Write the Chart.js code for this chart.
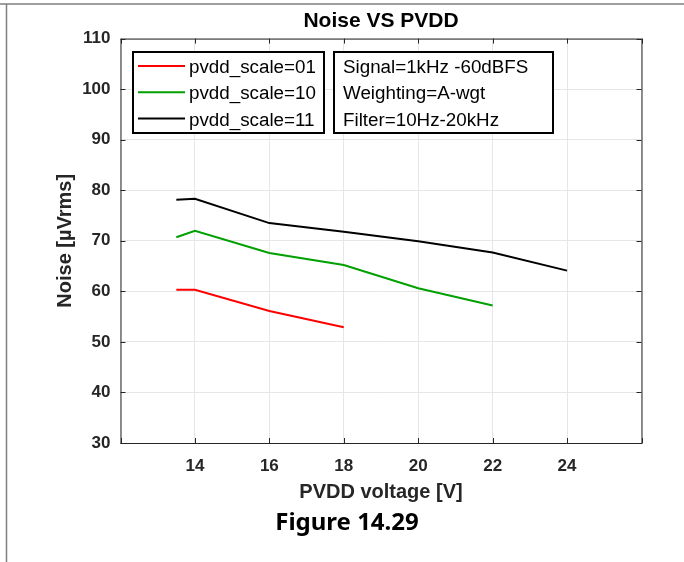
<!DOCTYPE html>
<html>
<head>
<meta charset="utf-8">
<script src="https://cdn.jsdelivr.net/npm/chart.js@4"></script>
<style>
  body { margin: 0; background: #fff; }
  canvas { display: block; }
</style>
</head>
<body>
<canvas id="noiseChart" width="684" height="562"></canvas>
<script>
// PVDD supply voltage (x) for each measured point
var voltages = [13.5, 14, 16, 18, 20, 22, 24];

// Noise in uVrms per pvdd_scale setting
var scale01 = [60.3, 60.3, 56.1, 52.9];
var scale10 = [70.7, 72.0, 67.6, 65.2, 60.6, 57.2];
var scale11 = [78.1, 78.3, 73.5, 71.8, 69.9, 67.7, 64.1];

var seriesLabels = ['pvdd_scale=01', 'pvdd_scale=10', 'pvdd_scale=11'];
var seriesColors = ['#ff0000', '#00a000', '#000000'];

// Test conditions shown in the box next to the legend
var conditionLines = ['Signal=1kHz -60dBFS', 'Weighting=A-wgt', 'Filter=10Hz-20kHz'];

var xTicks = [12, 14, 16, 18, 20, 22, 24, 26];
var yTicks = [30, 40, 50, 60, 70, 80, 90, 100, 110];

var FONT = "'Liberation Sans', Arial, sans-serif";
var AXIS_COLOR = '#262626';

/**
 * Pairs the voltages with a series of noise values.
 */
function toPoints(values) {
    return values.map(function(v, i) {
        return { x: voltages[i], y: v };
    });
}

// Draws the MATLAB-style box, inward ticks, legend, notes and caption
var figurePlugin = {
    id: 'figureDecor',
    afterDraw: function(chart) {
        var ctx = chart.ctx;
        var area = chart.chartArea;
        var xs = chart.scales.x;
        var ys = chart.scales.y;

        ctx.save();

        // outer page frame (top and left edges)
        ctx.strokeStyle = '#808080';
        ctx.lineWidth = 1.5;
        ctx.beginPath();
        ctx.moveTo(0, 4);
        ctx.lineTo(chart.width, 4);
        ctx.moveTo(6.5, 4);
        ctx.lineTo(6.5, chart.height);
        ctx.stroke();

        // axes box
        ctx.strokeStyle = AXIS_COLOR;
        ctx.lineWidth = 1;
        ctx.strokeRect(area.left + 0.5, area.top + 0.5, area.right - area.left, area.bottom - area.top);

        // inward tick marks on all four sides
        ctx.beginPath();
        xTicks.forEach(function(t) {
            var px = Math.round(xs.getPixelForValue(t)) + 0.5;
            ctx.moveTo(px, area.bottom);
            ctx.lineTo(px, area.bottom - 5);
            ctx.moveTo(px, area.top);
            ctx.lineTo(px, area.top + 5);
        });
        yTicks.forEach(function(t) {
            var py = Math.round(ys.getPixelForValue(t)) + 0.5;
            ctx.moveTo(area.left, py);
            ctx.lineTo(area.left + 5, py);
            ctx.moveTo(area.right, py);
            ctx.lineTo(area.right - 5, py);
        });
        ctx.stroke();

        var rowY = [68, 94.3, 120.5];

        // legend box
        ctx.fillStyle = '#fff';
        ctx.fillRect(133, 52, 191, 81);
        ctx.strokeStyle = '#000';
        ctx.lineWidth = 2;
        ctx.strokeRect(133, 52, 191, 81);

        ctx.font = '18.8px ' + FONT;
        ctx.textBaseline = 'middle';
        ctx.textAlign = 'left';
        chart.data.datasets.forEach(function(ds, i) {
            ctx.strokeStyle = ds.borderColor;
            ctx.lineWidth = 2;
            ctx.beginPath();
            ctx.moveTo(138, rowY[i] - 2);
            ctx.lineTo(185, rowY[i] - 2);
            ctx.stroke();
            ctx.fillStyle = '#000';
            ctx.fillText(ds.label, 189, rowY[i]);
        });

        // test conditions box
        ctx.fillStyle = '#fff';
        ctx.fillRect(334, 52, 219, 81);
        ctx.strokeStyle = '#000';
        ctx.lineWidth = 2;
        ctx.strokeRect(334, 52, 219, 81);
        ctx.fillStyle = '#000';
        conditionLines.forEach(function(line, i) {
            ctx.fillText(line, 343, rowY[i]);
        });

        // figure caption
        ctx.font = "bold 24px 'Noto Sans', sans-serif";
        ctx.textAlign = 'center';
        ctx.textBaseline = 'alphabetic';
        ctx.fillStyle = '#000';
        ctx.fillText('Figure 14.29', 347, 530);

        ctx.restore();
    }
};

new Chart(document.getElementById('noiseChart'), {
    type: 'line',
    data: {
        datasets: [
            {
                label: seriesLabels[0],
                data: toPoints(scale01),
                borderColor: seriesColors[0],
                borderWidth: 2
            },
            {
                label: seriesLabels[1],
                data: toPoints(scale10),
                borderColor: seriesColors[1],
                borderWidth: 2
            },
            {
                label: seriesLabels[2],
                data: toPoints(scale11),
                borderColor: seriesColors[2],
                borderWidth: 2
            }
        ]
    },
    options: {
        responsive: false,
        animation: false,
        layout: {
            padding: { left: 0, right: 42.5, top: 0, bottom: 0 }
        },
        elements: {
            point: { radius: 0 },
            line: { tension: 0, fill: false }
        },
        plugins: {
            legend: { display: false },
            tooltip: { enabled: false },
            title: {
                display: true,
                text: 'Noise VS PVDD',
                fullSize: false,
                color: '#000',
                font: { family: FONT, size: 21, weight: 'bold' },
                padding: { top: 9, bottom: 4.4 }
            }
        },
        scales: {
            x: {
                type: 'linear',
                min: 12,
                max: 26,
                afterBuildTicks: function(scale) {
                    scale.ticks = xTicks.map(function(v) { return { value: v }; });
                },
                afterFit: function(scale) {
                    scale.height = 119;
                },
                grid: { color: '#e6e6e6', drawTicks: false },
                border: { display: false },
                ticks: {
                    color: AXIS_COLOR,
                    padding: 13,
                    maxRotation: 0,
                    font: { family: FONT, size: 17, weight: 'bold' },
                    callback: function(v) {
                        return (v === 12 || v === 26) ? '' : v;
                    }
                },
                title: {
                    display: true,
                    text: 'PVDD voltage [V]',
                    color: AXIS_COLOR,
                    font: { family: FONT, size: 20, weight: 'bold' },
                    padding: { top: 0, bottom: 58 }
                }
            },
            y: {
                min: 30,
                max: 110,
                afterBuildTicks: function(scale) {
                    scale.ticks = yTicks.map(function(v) { return { value: v }; });
                },
                afterFit: function(scale) {
                    scale.width = 120.5;
                },
                grid: { color: '#e6e6e6', drawTicks: false },
                border: { display: false },
                ticks: {
                    color: AXIS_COLOR,
                    padding: 10,
                    font: { family: FONT, size: 17, weight: 'bold' }
                },
                title: {
                    display: true,
                    text: 'Noise [\u00b5Vrms]',
                    color: AXIS_COLOR,
                    font: { family: FONT, size: 20, weight: 'bold' },
                    padding: { top: 53, bottom: 0 }
                }
            }
        }
    },
    plugins: [figurePlugin]
});
</script>
</body>
</html>
